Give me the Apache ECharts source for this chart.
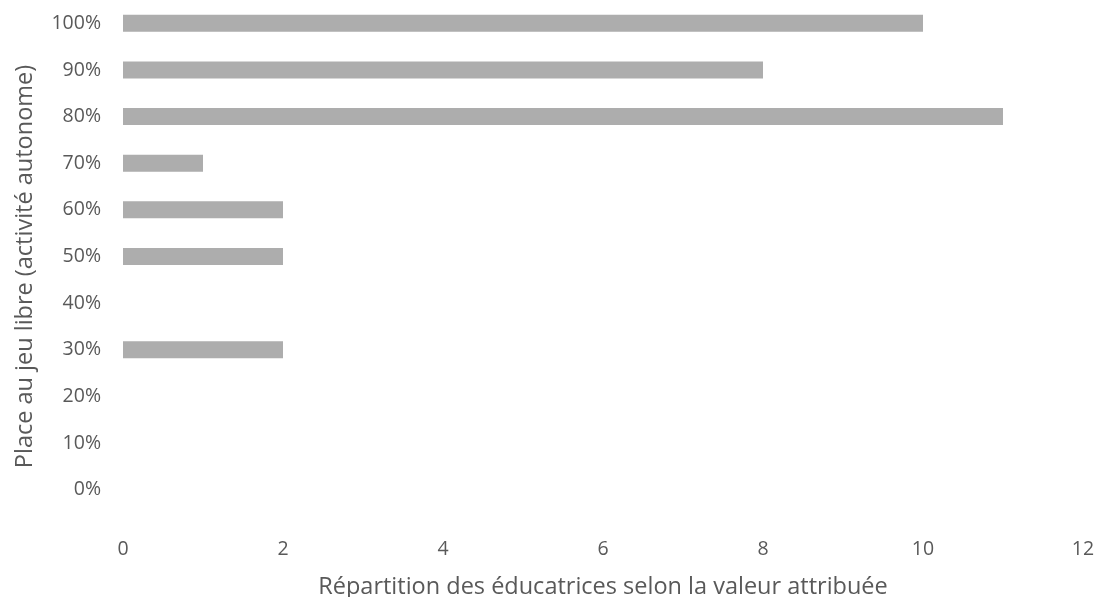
<!DOCTYPE html>
<html>
<head>
<meta charset="utf-8">
<script src="https://cdn.jsdelivr.net/npm/echarts@6/dist/echarts.min.js"></script>
<style>
  html, body { margin: 0; padding: 0; background: #fff; }
  #chart { width: 1097px; height: 597px; }
</style>
</head>
<body>
<div id="chart"></div>
<script>
// Share of free play (autonomous activity), bottom to top
const categories = ['0%', '10%', '20%', '30%', '40%', '50%', '60%', '70%', '80%', '90%', '100%'];
// Number of educators giving each value
const counts = [0, 0, 0, 2, 0, 2, 2, 1, 11, 8, 10];
const xTicks = [0, 2, 4, 6, 8, 10, 12];

const textColor = '#595959';
const fontFamily = '"Open Sans", sans-serif';

const chart = echarts.init(document.getElementById('chart'), null, { renderer: 'canvas' });
chart.setOption({
  animation: false,
  backgroundColor: '#ffffff',
  grid: { left: 123, right: 14, top: 0, bottom: 84, containLabel: false, outerBoundsMode: 'none' },
  xAxis: {
    type: 'value',
    min: xTicks[0],
    max: xTicks[xTicks.length - 1],
    interval: 2,
    name: 'Répartition des éducatrices selon la valeur attribuée',
    nameLocation: 'middle',
    nameGap: 62,
    nameTextStyle: { color: textColor, fontSize: 23.5, fontFamily },
    axisLine: { show: false },
    axisTick: { show: false },
    splitLine: { show: false },
    axisLabel: { color: textColor, fontSize: 19.5, fontFamily, margin: 26 }
  },
  yAxis: {
    type: 'category',
    data: categories,
    name: 'Place au jeu libre (activité autonome)',
    nameLocation: 'middle',
    nameGap: 86,
    nameTextStyle: { color: textColor, fontSize: 23.5, fontFamily, padding: [0, 20, 0, 0] },
    axisLine: { show: false },
    axisTick: { show: false },
    splitLine: { show: false },
    axisLabel: { color: textColor, fontSize: 19.5, fontFamily, margin: 22 }
  },
  series: [{
    type: 'bar',
    data: counts,
    barWidth: 17,
    itemStyle: { color: '#adadad' }
  }]
});
</script>
</body>
</html>
